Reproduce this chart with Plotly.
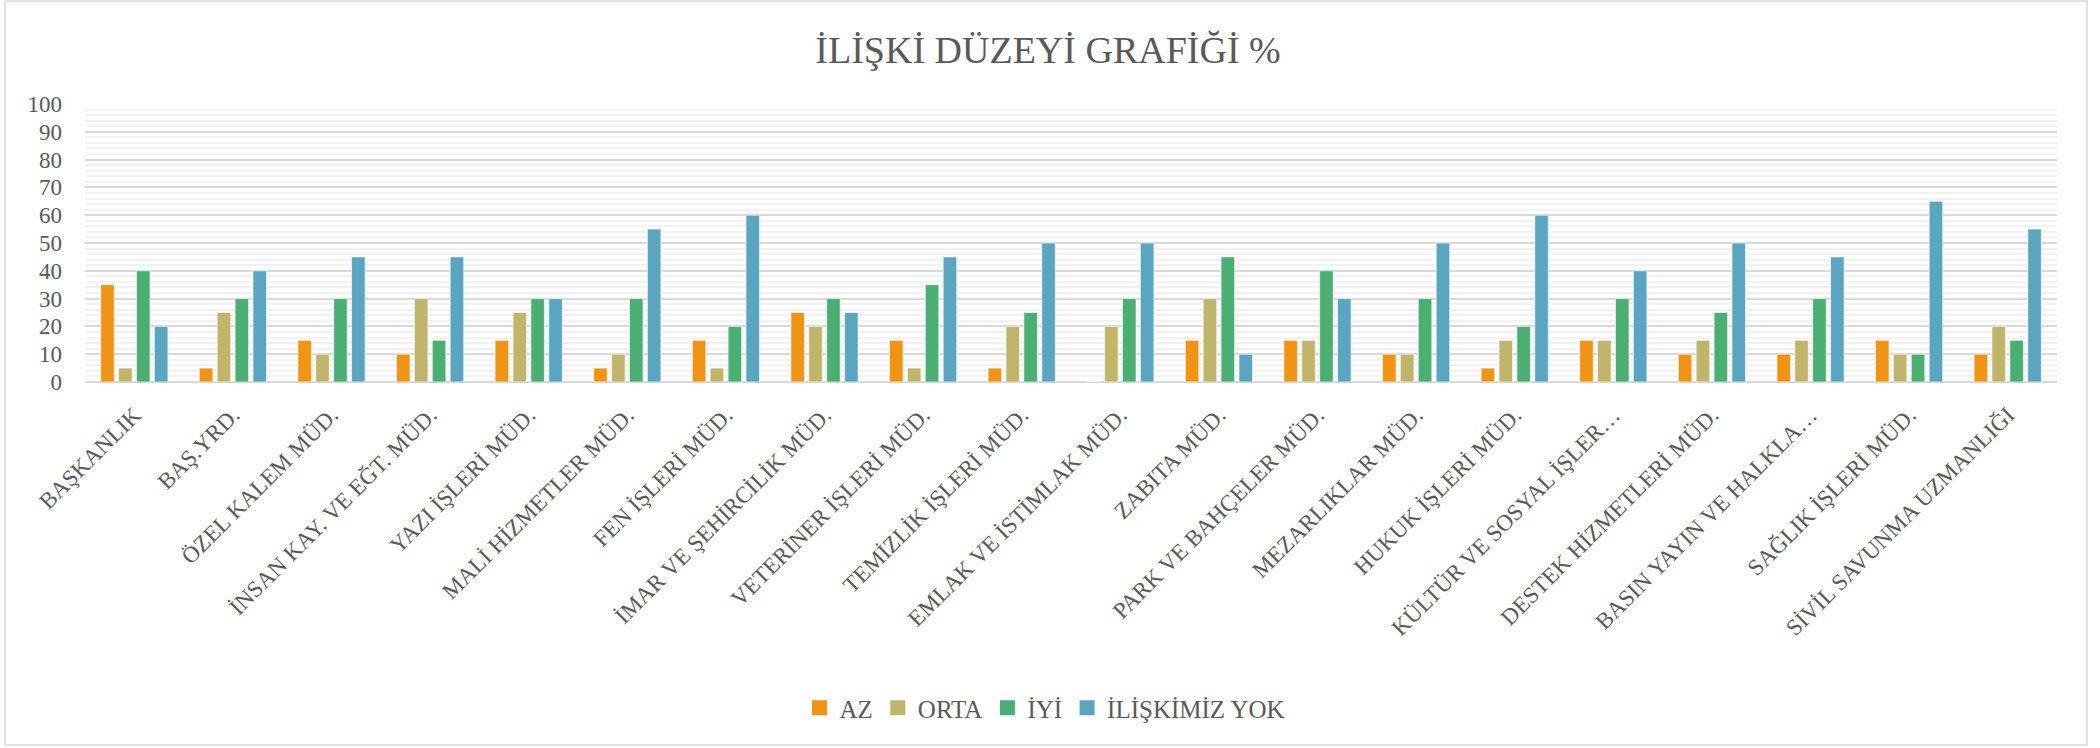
import plotly.graph_objects as go

categories = [
    "BAŞKANLIK", "BAŞ.YRD.", "ÖZEL KALEM MÜD.", "İNSAN KAY. VE EĞT. MÜD.",
    "YAZI İŞLERİ MÜD.", "MALİ HİZMETLER MÜD.", "FEN İŞLERİ MÜD.",
    "İMAR VE ŞEHİRCİLİK MÜD.", "VETERİNER İŞLERİ MÜD.", "TEMİZLİK İŞLERİ MÜD.",
    "EMLAK VE İSTİMLAK MÜD.", "ZABITA MÜD.", "PARK VE BAHÇELER MÜD.",
    "MEZARLIKLAR MÜD.", "HUKUK İŞLERİ MÜD.", "KÜLTÜR VE SOSYAL İŞLER…",
    "DESTEK HİZMETLERİ MÜD.", "BASIN YAYIN VE HALKLA…", "SAĞLIK İŞLERİ MÜD.",
    "SİVİL SAVUNMA UZMANLIĞI",
]
az = [35, 5, 15, 10, 15, 5, 15, 25, 15, 5, 0, 15, 15, 10, 5, 15, 10, 10, 15, 10]
orta = [5, 25, 10, 30, 25, 10, 5, 20, 5, 20, 20, 30, 15, 10, 15, 15, 15, 15, 10, 20]
iyi = [40, 30, 30, 15, 30, 30, 20, 30, 35, 25, 30, 45, 40, 30, 20, 30, 25, 30, 10, 15]
yok = [20, 40, 45, 45, 30, 55, 60, 25, 45, 50, 50, 10, 30, 50, 60, 40, 50, 45, 65, 55]
series_names = ["AZ", "ORTA", "İYİ", "İLİŞKİMİZ YOK"]
colors = ["#F09415", "#C1B56B", "#4BAF73", "#5AA6C0"]

FONT = "Liberation Serif"
TXT = "#595959"

fig = go.Figure()
for name, vals, col in zip(series_names, [az, orta, iyi, yok], colors):
    fig.add_trace(go.Bar(
        x=categories, y=vals, name=name, legendgroup=name, showlegend=False,
        marker=dict(color=col, line=dict(color="rgba(255,255,255,0.6)", width=1)),
    ))
# legend entries with larger square swatches
for name, col in zip(series_names, colors):
    fig.add_trace(go.Scatter(
        x=[None], y=[None], mode="markers", name=name, legendgroup=name,
        marker=dict(symbol="square", size=15, color=col), hoverinfo="skip",
    ))

W, H = 2100, 748
L, R, T, B = 85, 2057, 104, 382
fig.update_layout(
    width=W, height=H,
    margin=dict(l=L, r=W - R, t=T, b=H - B, autoexpand=False),
    paper_bgcolor="white", plot_bgcolor="white",
    barmode="group", bargap=0.274, bargroupgap=0.245,
    title=dict(text="İLİŞKİ DÜZEYİ GRAFİĞİ %", x=1048 / W, xref="container", xanchor="center",
               y=1 - 50 / H, yanchor="middle", yref="container",
               font=dict(family=FONT, size=38, color=TXT)),
    font=dict(family=FONT, color=TXT),
    legend=dict(orientation="h", x=(1045 - L) / (R - L), xanchor="center",
                yref="container", y=1 - 708 / H, yanchor="middle",
                font=dict(family=FONT, size=25, color=TXT),
                itemwidth=30, bgcolor="rgba(0,0,0,0)"),
    xaxis=dict(tickangle=-45, tickfont=dict(family=FONT, size=23, color=TXT),
               showgrid=False, showline=False, ticks="", automargin=False,
               ticklabelstandoff=14),
    yaxis=dict(range=[0, 100], dtick=10, tickfont=dict(family=FONT, size=23, color=TXT),
               showgrid=True, gridcolor="#D9D9D9", gridwidth=2,
               zeroline=True, zerolinecolor="#D9D9D9", zerolinewidth=2,
               showline=False, ticks="", automargin=False, ticklabelstandoff=22,
               minor=dict(dtick=2, showgrid=True, gridcolor="#F2F2F2", gridwidth=2)),
    showlegend=True,
)

# chart-area border
pw, ph = R - L, B - T
fig.add_shape(type="rect", xref="paper", yref="paper",
              x0=(5 - L) / pw, x1=(2087 - L) / pw,
              y0=(B - 745) / ph, y1=(B - 1) / ph,
              line=dict(color="#D9D9D9", width=1.5), fillcolor="rgba(0,0,0,0)", layer="below")

fig.write_html("out.html", config={"displayModeBar": False},
               post_script="document.body.style.margin='0';")
